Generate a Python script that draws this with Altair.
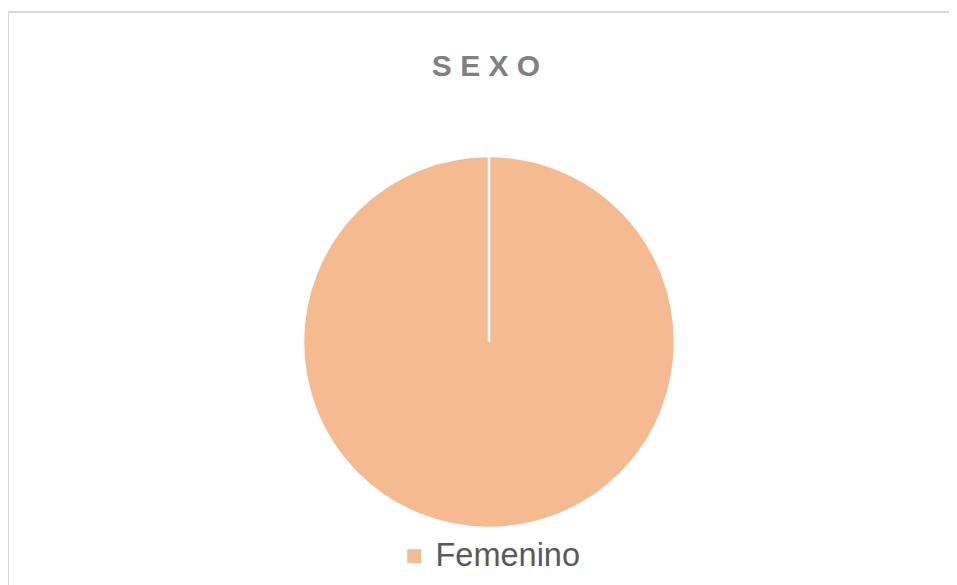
import altair as alt
import pandas as pd

# Data: a single category holds 100 %
categorias = ["Femenino", "Masculino"]
valores = [100, 0]
orden = [0, 1]

df = pd.DataFrame({"sexo": categorias, "valor": valores, "orden": orden})
marco = pd.DataFrame({"k": [0]})

W, H = 920, 662

color_scale = alt.Scale(domain=["Femenino", "Masculino"], range=["#F6BA90", "#F6BA90"])

pie = alt.Chart(df).mark_arc(radius=186, stroke="white", strokeWidth=2.5).encode(
    theta=alt.Theta("valor:Q", stack=True),
    order=alt.Order("orden:Q"),
    color=alt.Color(
        "sexo:N",
        scale=color_scale,
        legend=alt.Legend(
            values=["Femenino"],
            title=None,
            orient="none",
            legendX=369,
            legendY=529,
            padding=0,
            symbolType="square",
            symbolSize=196,
            symbolStrokeWidth=0,
            labelFont="Liberation Sans",
            labelFontSize=32.5,
            labelColor="#595959",
            labelOffset=5,
        ),
    ),
)

# chart frame (top and left edges visible in the reference)
borde_sup = alt.Chart(marco).mark_rule(color="#D9D9D9", strokeWidth=2).encode(
    x=alt.value(-21), x2=alt.value(W + 40), y=alt.value(1)
)
borde_izq = alt.Chart(marco).mark_rule(color="#D9D9D9", strokeWidth=2).encode(
    x=alt.value(-21), y=alt.value(0), y2=alt.value(H)
)

chart = alt.layer(borde_sup, borde_izq, pie).properties(
    width=W,
    height=H,
    autosize="none",
    background="white",
    padding={"left": 21, "top": 3, "right": 0, "bottom": 0},
    title=alt.TitleParams(
        text="S E X O",
        font="Liberation Sans",
        fontSize=30,
        fontWeight="bold",
        color="#808080",
        anchor="middle",
        baseline="alphabetic",
        offset=-96,
        dx=-3,
    ),
).configure_view(strokeWidth=0, stroke="transparent")

chart.save("out.html", embed_options={"renderer": "svg", "actions": False})
